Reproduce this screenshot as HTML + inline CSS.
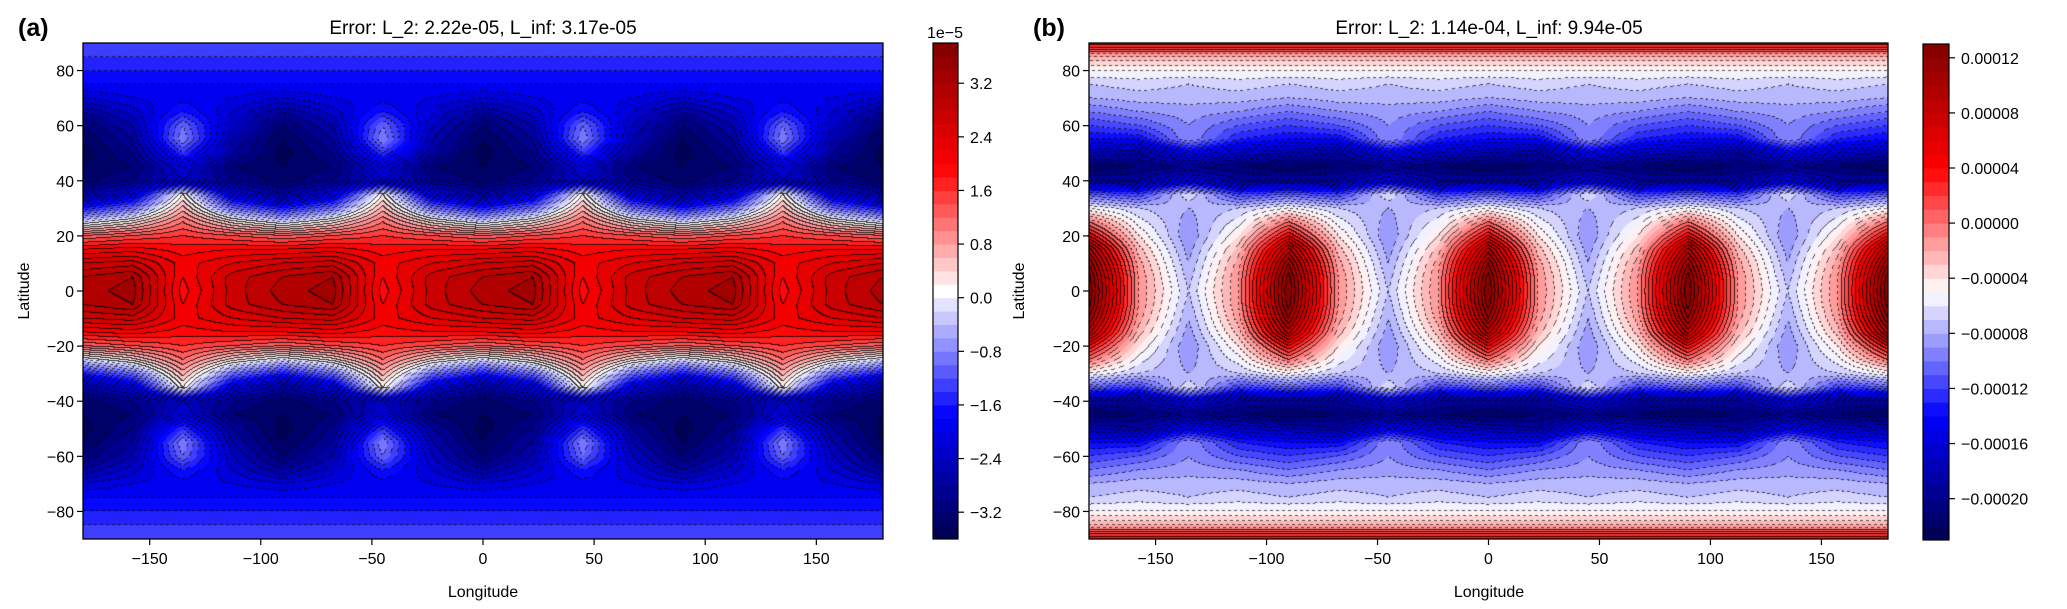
<!DOCTYPE html>
<html><head><meta charset="utf-8"><style>
html,body{margin:0;padding:0;background:#fff;}
#wrap{position:relative;width:2067px;height:609px;overflow:hidden;font-family:"Liberation Sans",sans-serif;}
canvas{position:absolute;}
svg{position:absolute;left:0;top:0;}
</style></head><body>
<div id="wrap">
<canvas id="cA" width="800" height="496" style="left:83px;top:43px"></canvas>
<canvas id="cB" width="799" height="496" style="left:1089px;top:43px"></canvas>
<svg id="ov" width="2067" height="609">
<text x="18" y="36" font-size="25" font-weight="bold" font-family="Liberation Sans, sans-serif">(a)</text>
<text x="1033" y="36" font-size="25" font-weight="bold" font-family="Liberation Sans, sans-serif">(b)</text>
<text x="483" y="34" font-size="19" text-anchor="middle" font-family="Liberation Sans, sans-serif">Error: L_2: 2.22e-05, L_inf: 3.17e-05</text>
<text x="1489" y="34" font-size="19" text-anchor="middle" font-family="Liberation Sans, sans-serif">Error: L_2: 1.14e-04, L_inf: 9.94e-05</text>
<text x="483" y="597" font-size="16" text-anchor="middle" font-family="Liberation Sans, sans-serif">Longitude</text>
<text x="1489" y="597" font-size="16" text-anchor="middle" font-family="Liberation Sans, sans-serif">Longitude</text>
<text transform="translate(29,291) rotate(-90)" font-size="16" text-anchor="middle" font-family="Liberation Sans, sans-serif">Latitude</text>
<text transform="translate(1024,291) rotate(-90)" font-size="16" text-anchor="middle" font-family="Liberation Sans, sans-serif">Latitude</text>
<text x="945" y="38" font-size="16" text-anchor="middle" font-family="Liberation Sans, sans-serif">1e−5</text>
</svg>
</div>
<script>
// rows: latitude 0,5,...,90 (mirrored to south); columns: longitude phase within 90° period
// phase order: A (lon -180,-90,0,90,180), B (+22.5), C (+45), D (+67.5)
const latRows = [0,5,10,15,20,25,30,35,40,45,50,55,60,65,70,75,80,85,90];
const errA = [
 [3.1,3.3,1.9,2.7],[3.0,3.2,2.0,2.7],[2.6,2.7,2.1,2.4],[2.0,2.1,1.9,2.0],[1.2,1.4,1.6,1.4],
 [-0.2,0.3,1.2,0.3],[-1.6,-1.0,0.7,-1.0],[-2.8,-2.2,0.2,-2.2],[-3.3,-3.0,-2.4,-3.0],[-3.4,-3.2,-2.2,-3.2],
 [-3.5,-3.0,-1.4,-2.8],[-3.4,-2.8,-0.8,-2.6],[-3.2,-2.6,-1.0,-2.4],[-2.8,-2.3,-1.6,-2.2],[-2.2,-2.0,-1.9,-2.0],
 [-1.8,-1.8,-1.8,-1.8],[-1.6,-1.6,-1.6,-1.6],[-1.4,-1.4,-1.4,-1.4],[-1.3,-1.3,-1.3,-1.3]
];
const errB = [
 [13,-1,-7,-1],[12.5,-1,-7.5,-1],[11,-1.5,-8,-1.5],[8.5,-2.5,-8.5,-2.5],[4,-4,-9,-4],
 [0,-5.5,-8.5,-5.5],[-5,-7,-8,-7],[-11,-12,-6,-12],[-19,-19,-16,-19],[-22,-21,-20,-21],
 [-18,-19,-15,-17],[-14,-14,-9,-13],[-12,-11,-9,-11],[-10,-9,-8.5,-9],[-8,-7.5,-7.5,-7.5],
 [-7,-6.5,-7,-6.5],[-5,-5,-5,-5],[-2,-2,-2,-2],[4,4,4,4]
];
const levelsA = {min:-3.6, max:3.8, step:0.2};
const levelsB = {min:-23, max:13, step:1};
const xTicks = [-150,-100,-50,0,50,100,150];
const yTicks = [-80,-60,-40,-20,0,20,40,60,80];
const cbTicksA = [-3.2,-2.4,-1.6,-0.8,0,0.8,1.6,2.4,3.2];
const cbLabelsA = ["−3.2","−2.4","−1.6","−0.8","0.0","0.8","1.6","2.4","3.2"];
const cbTicksB = [-20,-16,-12,-8,-4,0,4,8,12];
const cbLabelsB = ["−0.00020","−0.00016","−0.00012","−0.00008","−0.00004","0.00000","0.00004","0.00008","0.00012"];

function seismic(t){
  t=Math.max(0,Math.min(1,t));
  const pts=[[0,0,0,0.3],[0.25,0,0,1],[0.5,1,1,1],[0.75,1,0,0],[1,0.5,0,0]];
  for(let i=0;i<4;i++){ if(t<=pts[i+1][0]){ const a=pts[i],b=pts[i+1],f=(t-a[0])/(b[0]-a[0]);
    return [0,1,2].map(k=>Math.round(255*(a[k+1]+(b[k+1]-a[k+1])*f)));}}
  return [128,0,0];
}
function gridVal(grid,lon,lat){
  const al=Math.min(90,Math.abs(lat));
  let fj=al/5, j0=Math.min(17,Math.floor(fj)), tj=fj-j0;
  let fi=(lon+180)/22.5, i0=Math.min(15,Math.max(0,Math.floor(fi))), ti=fi-i0;
  const g=(j,i)=>grid[j][i%4];
  const v0=g(j0,i0)*(1-ti)+g(j0,i0+1)*ti;
  const v1=g(j0+1,i0)*(1-ti)+g(j0+1,i0+1)*ti;
  return v0*(1-tj)+v1*tj;
}
function drawField(id,grid,lev){
  const c=document.getElementById(id), W=c.width, H=c.height, ctx=c.getContext('2d');
  const img=ctx.createImageData(W,H), d=img.data;
  const n=Math.round((lev.max-lev.min)/lev.step);
  const K=new Int16Array(W*H);
  for(let y=0;y<H;y++){const lat=90-(y+0.5)/H*180;
    for(let x=0;x<W;x++){const lon=-180+(x+0.5)/W*360;
      const v=gridVal(grid,lon,lat);
      let k=Math.floor((v-lev.min)/lev.step); k=Math.max(0,Math.min(n-1,k)); K[y*W+x]=k;}}
  const cols=[]; for(let k=0;k<n;k++) cols.push(seismic((k+0.5)/n));
  for(let y=0;y<H;y++)for(let x=0;x<W;x++){
    const i=y*W+x,k=K[i]; let col=cols[k];
    let kn=-1;
    if(x<W-1&&K[i+1]!==k) kn=K[i+1]; else if(y<H-1&&K[i+W]!==k) kn=K[i+W];
    if(kn>=0){ const lv=lev.min+lev.step*Math.max(k,kn);
      let a=0.8; if(lv<0-1e-9){ a=((x+y)%6<3)?0.65:0; }
      col=[col[0]*(1-a),col[1]*(1-a),col[2]*(1-a)]; }
    d[i*4]=col[0];d[i*4+1]=col[1];d[i*4+2]=col[2];d[i*4+3]=255;}
  ctx.putImageData(img,0,0);
}
drawField('cA',errA,levelsA);
drawField('cB',errB,levelsB);

const NS="http://www.w3.org/2000/svg", ov=document.getElementById('ov');
function mk(tag,attrs){const e=document.createElementNS(NS,tag);for(const k in attrs)e.setAttribute(k,attrs[k]);ov.appendChild(e);return e;}
function axes(ax,tag){
  const xs=v=>ax.x+(v+180)/360*ax.w, ys=v=>ax.y+(90-v)/180*ax.h;
  xTicks.forEach(v=>{
    const l=mk('line',{x1:xs(v),x2:xs(v),y1:ax.y+ax.h,y2:ax.y+ax.h+6,stroke:'#000','stroke-width':1.2});
    
    
    const t=mk('text',{x:xs(v),y:ax.y+ax.h+25,'font-size':16,'text-anchor':'middle','font-family':'Liberation Sans, sans-serif'});
    t.textContent=(v<0?'−':'')+Math.abs(v);
    
    
  });
  yTicks.forEach(v=>{
    const l=mk('line',{x1:ax.x-6,x2:ax.x,y1:ys(v),y2:ys(v),stroke:'#000','stroke-width':1.2});
    
    
    const t=mk('text',{x:ax.x-9,y:ys(v)+6,'font-size':16,'text-anchor':'end','font-family':'Liberation Sans, sans-serif'});
    t.textContent=(v<0?'−':'')+Math.abs(v);
    
    
  });
  const f=mk('rect',{x:ax.x,y:ax.y,width:ax.w,height:ax.h,fill:'none',stroke:'#000','stroke-width':1.3});
  
  
}
function colorbar(cb,lev,ticks,labels,tag){
  const n=Math.round((lev.max-lev.min)/lev.step);
  const ys=v=>cb.y+(lev.max-v)/(lev.max-lev.min)*cb.h;
  for(let k=0;k<n;k++){
    const lo=lev.min+k*lev.step, c=seismic((k+0.5)/n);
    const r=mk('rect',{x:cb.x,y:ys(lo+lev.step),width:cb.w,height:ys(lo)-ys(lo+lev.step)+0.5,fill:`rgb(${c[0]},${c[1]},${c[2]})`});
    
    
  }
  const f=mk('rect',{x:cb.x,y:cb.y,width:cb.w,height:cb.h,fill:'none',stroke:'#000','stroke-width':1.2});
  
  
  ticks.forEach((v,i)=>{
    const l=mk('line',{x1:cb.x+cb.w,x2:cb.x+cb.w+6,y1:ys(v),y2:ys(v),stroke:'#000','stroke-width':1.2});
    
    
    const t=mk('text',{x:cb.x+cb.w+12,y:ys(v)+6,'font-size':16,'font-family':'Liberation Sans, sans-serif'});
    t.textContent=labels[i];
    
    
  });
}
axes({x:83,y:43,w:800,h:496},'a');
axes({x:1089,y:43,w:799,h:496},'b');
colorbar({x:933,y:43,w:25,h:496},levelsA,cbTicksA,cbLabelsA,'a');
colorbar({x:1923,y:44,w:26,h:496},levelsB,cbTicksB,cbLabelsB,'b');
</script>
</body></html>
